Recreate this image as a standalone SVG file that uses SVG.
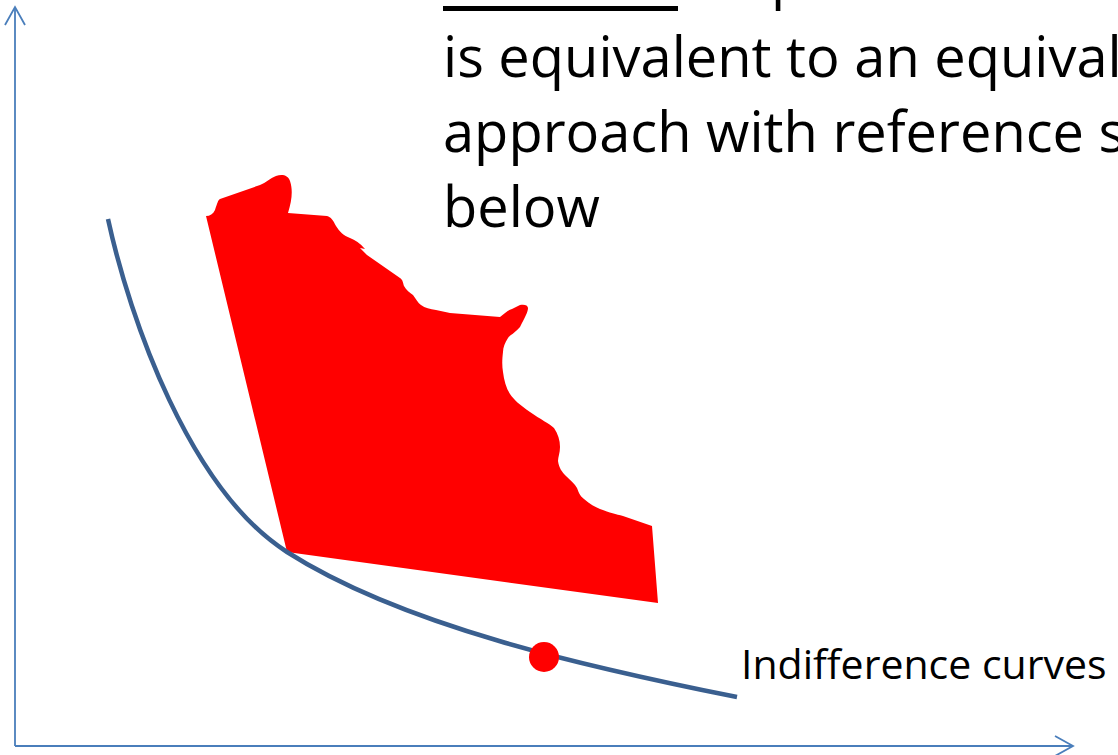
<svg xmlns="http://www.w3.org/2000/svg" width="1118" height="755" viewBox="0 0 1118 755">
  <style>
    .axis { stroke: #4A7EBB; stroke-width: 1.8; fill: none; }
    .curve { stroke: #3A5F8F; stroke-width: 4.5; fill: none; }
    .big { font-family: "Open Sans", "Liberation Sans", sans-serif; font-size: 56px; fill: #000; }
    .label { font-family: "Open Sans", "Liberation Sans", sans-serif; font-size: 41px; fill: #000; }
  </style>
  <defs>
    <marker id="openArrow" viewBox="0 0 18 20" refX="18" refY="10" markerWidth="18" markerHeight="20" markerUnits="userSpaceOnUse" orient="auto" overflow="visible">
      <path d="M0,0 L18,10 L0,20" fill="none" stroke="#4A7EBB" stroke-width="1.8"/>
    </marker>
  </defs>
  <rect width="1118" height="755" fill="#fff"/>

  <g id="connectors">
    <line id="y-axis" class="axis" x1="15" y1="746" x2="15" y2="7" marker-end="url(#openArrow)"/>
    <line id="x-axis" class="axis" x1="15" y1="746" x2="1073" y2="746" marker-end="url(#openArrow)"/>
  </g>

  <g id="feasible-region">
    <path fill="#FF0000" d="M287,552 L206,216 C210,216 213,214 215,210 C217,204 218,200 220,199 L260,185 C266,183 270,178 276,176 C282,174 288,175 290,181 C293,190 292,200 288,213 L327,216 C331,217 333,220 336,226 C339,231 344,236 350,238 C355,240 360,243 365,249 L360,248 L367,255 L400,278 C403,280 403,283 404,286 C406,290 410,293 413,295 C416,299 418,303 421,305 C425,308 430,309 436,310 L450,313 L500,317 C505,313 508,310 512,309 L520,305 C524,304 528,305 528,308 C528,312 525,317 520,327 C515,333 510,335 508,338 C505,343 503,347 503,352 C502,360 502,366 503,372 C504,380 506,388 510,394 C514,400 520,405 530,412 C540,419 550,424 554,428 C558,434 560,440 560,447 C560,453 558,457 558,461 C559,468 562,472 566,476 C570,480 575,484 577,488 C579,493 580,496 584,499 C590,504 595,507 600,509 C610,513 616,514 623,516 L652,526 L658,603 Z"/>
  </g>

  <g id="indifference-curve">
    <path class="curve" d="M108,219 C130,320 190,490 287,552 C403,626 587,667 737,697"/>
  </g>

  <g id="point">
    <circle cx="544" cy="657" r="15" fill="#FF0000"/>
  </g>

  <g id="curve-label">
    <text class="label" x="741" y="679">Indifference curves</text>
  </g>

  <g id="heading">
    <rect x="443" y="6" width="235" height="5" fill="#000"/>
    <text class="big" x="771" y="-3.5">p</text>
    <text class="big" x="443" y="77">is equivalent to an equival</text>
    <text class="big" x="443" y="152">approach with reference s</text>
    <text class="big" x="443" y="227">below</text>
  </g>
</svg>
